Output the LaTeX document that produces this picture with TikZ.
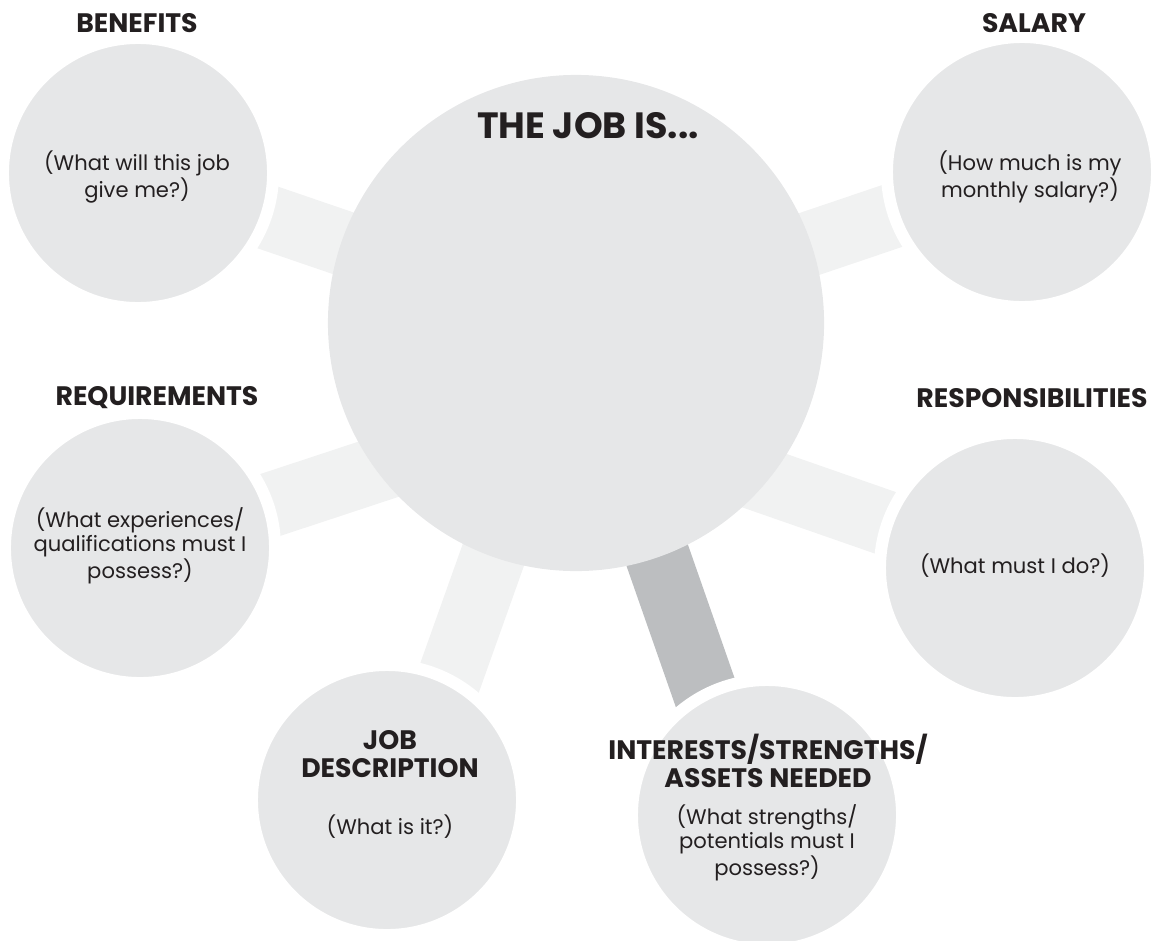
\documentclass[tikz,border=0pt]{standalone}
\usepackage{fontspec}
\setmainfont{Poppins}
\usetikzlibrary{backgrounds}

\definecolor{circlegrey}{HTML}{E6E7E8}
\definecolor{spokegrey}{HTML}{F1F2F2}
\definecolor{spokedark}{HTML}{BCBEC0}
\definecolor{ink}{HTML}{231F20}

\begin{document}
\begin{tikzpicture}[x=0.025cm, y=-0.025cm]
        \tikzstyle{hub} = [circle, fill=circlegrey, minimum size=12.4cm, inner sep=0pt]
        \tikzstyle{topic} = [circle, fill=circlegrey, draw=white, line width=0.3cm, minimum size=6.75cm, inner sep=0pt]
        \tikzstyle{spoke} = [line width=1.625cm, spokegrey]
        \tikzstyle{heading} = [font=\bfseries\fontsize{19}{20}\selectfont, text=ink, align=center]
        \tikzstyle{question} = [font=\fontsize{15}{17}\selectfont, text=ink, align=center]

                \useasboundingbox (0,0) rectangle (1154,940);

                % circles
                \node (job) [hub] at (576,323) {};
                \node (benefits) [topic] at (138,173) {};
                \node (salary) [topic] at (1022,172) {};
                \node (requirements) [topic] at (140,548) {};
                \node (responsibilities) [topic] at (1015,568) {};
                \node (jobdesc) [topic] at (387,800) {};
                \node (interests) [topic] at (767,815) {};

                % where the lower spokes end inside the hub
                \coordinate (hubleft) at (576,404);
                \coordinate (hubright) at (576,415);
                \coordinate (jdtip) at (406,800);
                \coordinate (intip) at (748,815);

                \begin{scope}[on background layer]
                \draw[spoke] (benefits.center) -- (job.center);
                \draw[spoke] (salary.center) -- (job.center);
                \draw[spoke] (requirements.center) -- (hubleft);
                \draw[spoke] (responsibilities.center) -- (hubright);
                \draw[spoke] (job.center) -- (jdtip);
                \draw[spoke, spokedark] (job.center) -- (intip);
                \end{scope}

                % headings
                \node (jobtitle) [heading, font=\bfseries\fontsize{26}{30}\selectfont] at (588,126) {THE JOB IS...};
                \node (benefitstitle) [heading] at (137,23) {BENEFITS};
                \node (salarytitle) [heading] at (1034,23) {SALARY};
                \node (requirementstitle) [heading] at (157,398) {REQUIREMENTS};
                \node (responsibilitiestitle) [heading] at (1032,398) {RESPONSIBILITIES};
                \node (jobdesctitle) [heading] at (390,754) {JOB\\DESCRIPTION};
                \node (intereststitle) [heading] at (768,761) {INTERESTS/STRENGTHS/\\ASSETS NEEDED};

                % questions
                \node (benefitsq) [question] at (137,177) {(What will this job\\give me?)};
                \node (salaryq) [question] at (1030,177) {(How much is my\\monthly salary?)};
                \node (requirementsq) [question] at (140,546) {(What experiences/\\qualifications must I\\possess?)};
                \node (responsibilitiesq) [question] at (1015,566) {(What must I do?)};
                \node (jobdescq) [question] at (390,827) {(What is it?)};
                \node (interestsq) [question] at (767,843) {(What strengths/\\potentials must I\\possess?)};
    \end{tikzpicture}
\end{document}
